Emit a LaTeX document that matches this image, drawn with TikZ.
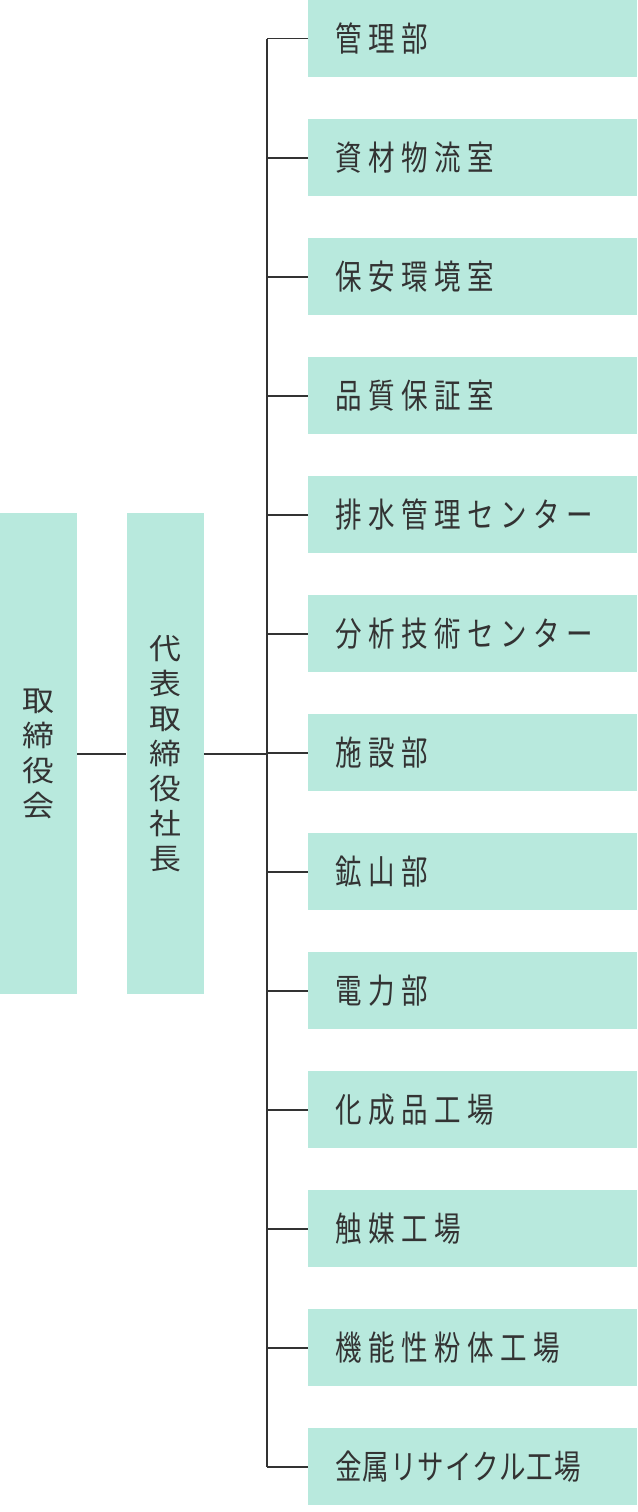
\documentclass[tikz,border=0pt]{standalone}
\usepackage{fontspec}
\usetikzlibrary{positioning}
\newfontfamily\deptfont[FakeStretch=0.78, LetterSpace=19]{Noto Sans CJK JP}
\newfontfamily\deptfonttight[FakeStretch=0.78, LetterSpace=3]{Noto Sans CJK JP}
\newfontfamily\vertfont[FakeStretch=1.1]{Noto Sans CJK JP}
\definecolor{boxFill}{HTML}{B8E9DD}
\definecolor{lineColor}{HTML}{333333}
\definecolor{textMain}{HTML}{333333}
\tikzset{
  deptbox/.style={
    fill=boxFill, anchor=north west, inner xsep=27pt, inner ysep=0pt,
    minimum width=329pt, minimum height=77pt, text width=275pt, align=left,
    font=\deptfont\fontsize{34pt}{40pt}\selectfont, text=textMain,
  },
  plain/.style={},
  tight/.style={font=\deptfonttight\fontsize{34pt}{40pt}\selectfont},
  headbox/.style={
    fill=boxFill, inner sep=0pt,
    minimum width=77pt, minimum height=481pt, align=center,
    font=\vertfont\fontsize{29pt}{35pt}\selectfont, text=textMain,
  },
  linkline/.style={
    draw=lineColor, line width=1.6pt,
  },
}

\begin{document}
\begin{tikzpicture}[x=1pt, y=-1pt]
  \useasboundingbox (0,0) rectangle (637,1512);

  % === Department column ===
  \foreach \lbl/\look [count=\i from 0] in {管理部/plain, 資材物流室/plain,
      保安環境室/plain, 品質保証室/plain, 排水管理センター/plain,
      分析技術センター/plain, 施設部/plain, 鉱山部/plain, 電力部/plain,
      化成品工場/plain, 触媒工場/plain, 機能性粉体工場/plain,
      金属リサイクル工場/tight} {
    \node[deptbox, \look] (dept\i) at (308, \i*119) {\lbl};
  }

  % === Board and president (vertical text) ===
  \node[headbox, anchor=north west] (board) at (0, 513) {取\\締\\役\\会};
  \node[headbox, right=49pt of board] (ceo) {代\\表\\取\\締\\役\\社\\長};

  % === Trunk line ===
  \coordinate (trunk) at (267, 0);
  \draw[linkline] (trunk |- dept0.west) -- (trunk |- dept12.west);
  \foreach \i in {0,...,12} {
    \draw[linkline] (trunk |- dept\i.west) -- (dept\i.west);
  }

  % === Board to president to trunk ===
  \draw[linkline] (board) -- (ceo);
  \draw[linkline] (ceo.east) -- (trunk |- ceo.east);

\end{tikzpicture}
\end{document}
